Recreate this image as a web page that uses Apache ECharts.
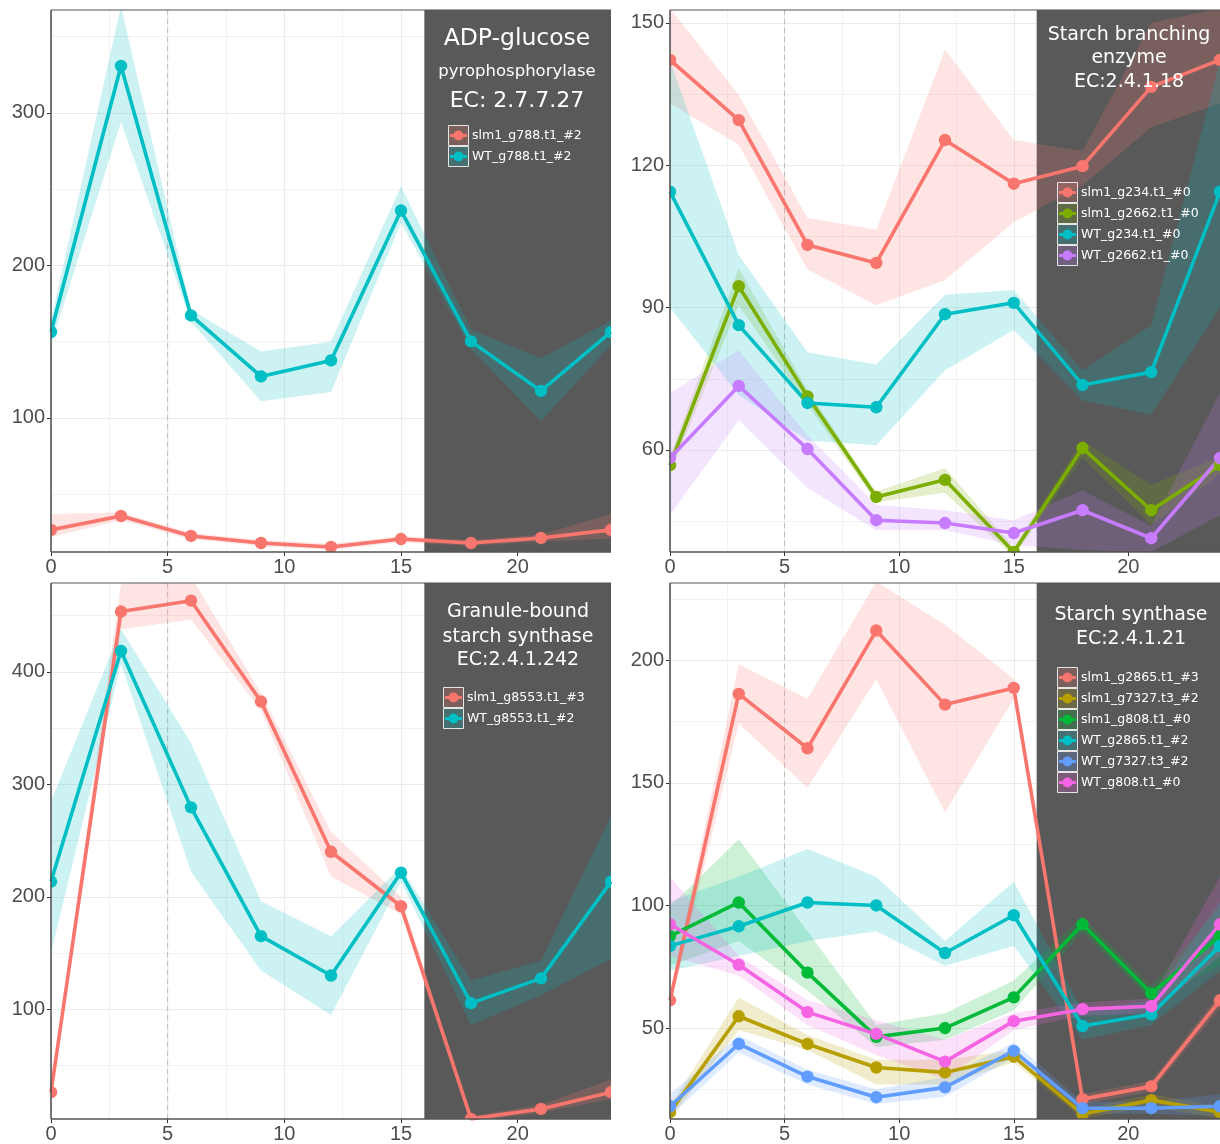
<!DOCTYPE html>
<html>
<head>
<meta charset="utf-8">
<script src="https://cdn.jsdelivr.net/npm/echarts@6/dist/echarts.min.js"></script>
<style>
  html, body { margin: 0; padding: 0; background: #ffffff; }
  #chart { width: 1220px; height: 1144px; }
</style>
</head>
<body>
<div id="chart"></div>
<script>
// Sampling times (hours) and shared x-axis ticks
const hours = [0, 3, 6, 9, 12, 15, 18, 21, 24];
const xMajorTicks = [0, 5, 10, 15, 20];
const xMinorTicks = [2.5, 7.5, 12.5, 17.5, 22.5];
const darkStart = 16;
const darkEnd = 24;
const dawnHour = 5;

// ADP-glucose pyrophosphorylase (EC 2.7.7.27)
const agpSlm1 = [26.6, 35.7, 22.6, 18.0, 15.4, 20.6, 18.0, 21.3, 26.6];
const agpSlm1Lo = [22, 33, 20.5, 16, 13.5, 18.5, 16, 19, 21];
const agpSlm1Hi = [37, 38, 24.5, 20, 17.5, 22.5, 20, 23.5, 37];
const agpWT = [156.4, 330.8, 167.2, 127.2, 137.7, 236.0, 150.2, 117.7, 156.4];
const agpWTLo = [148, 294, 163, 111, 117, 228, 145, 98, 148];
const agpWTHi = [164, 370, 171, 143.6, 150, 252, 158, 139, 164];
const agpYTicks = [100, 200, 300];
const agpYMinor = [50, 150, 250, 350];
const agpYRange = [12.1, 367.5];

// Starch branching enzyme (EC 2.4.1.18)
const sbeSlm1G234 = [142.2, 129.5, 103.2, 99.4, 125.3, 116.1, 119.8, 136.5, 142.2];
const sbeSlm1G234Lo = [133, 124.3, 98, 90.5, 95.8, 108, 115.8, 128, 133];
const sbeSlm1G234Hi = [153, 134.8, 108.9, 106.4, 144.3, 125.3, 123, 150, 153];
const sbeSlm1G2662 = [56.8, 94.5, 71.3, 50.1, 53.7, 38.5, 60.4, 47.3, 56.8];
const sbeSlm1G2662Lo = [55, 90.5, 69.5, 49, 51, 37.5, 58.3, 44.2, 55];
const sbeSlm1G2662Hi = [58.6, 98.3, 72.6, 51.2, 56.2, 39.5, 62.1, 52.6, 58.6];
const sbeWTG234 = [114.4, 86.3, 69.9, 69.0, 88.6, 91.0, 73.7, 76.4, 114.4];
const sbeWTG234Lo = [90, 71.6, 62, 61, 76.8, 85.3, 70.5, 67.4, 90];
const sbeWTG234Hi = [142, 101, 80.6, 78, 92.7, 93.7, 76.8, 86.3, 142];
const sbeWTG2662 = [58.3, 73.5, 60.2, 45.2, 44.6, 42.5, 47.3, 41.4, 58.3];
const sbeWTG2662Lo = [46.3, 66.3, 52, 43.1, 43.1, 40, 38.9, 38.5, 46.3];
const sbeWTG2662Hi = [72, 81, 63.1, 48.4, 47.3, 45.2, 51.5, 44, 72];
const sbeYTicks = [60, 90, 120, 150];
const sbeYMinor = [45, 75, 105, 135];
const sbeYRange = [38.5, 152.7];

// Granule-bound starch synthase (EC 2.4.1.242)
const gbssSlm1 = [26.2, 453.6, 463.3, 373.6, 240.0, 191.6, 2.5, 11.3, 26.2];
const gbssSlm1Lo = [22, 437.8, 446.6, 365.7, 218, 184.5, 0, 8, 20];
const gbssSlm1Hi = [30, 478, 485, 380.7, 257.5, 200, 5, 15, 37.6];
const gbssWT = [213.5, 418.5, 279.5, 165.0, 130.0, 221.5, 105.4, 127.4, 213.5];
const gbssWTLo = [150, 407, 222.3, 134.4, 94.8, 213.5, 86, 112.4, 145];
const gbssWTHi = [285, 437.8, 336.7, 196, 165, 226.7, 125.6, 143.2, 272];
const gbssYTicks = [100, 200, 300, 400];
const gbssYMinor = [50, 150, 250, 350, 450];
const gbssYRange = [2.4, 479];

// Starch synthase (EC 2.4.1.21)
const ssSlm1G2865 = [61.3, 186.3, 164.1, 212.1, 181.9, 188.7, 21.0, 26.2, 61.3];
const ssSlm1G2865Lo = [58, 174.2, 148, 192.3, 137.9, 184.3, 19, 24, 58];
const ssSlm1G2865Hi = [64, 198.4, 184.3, 232, 214.5, 192.3, 23, 28.5, 64];
const ssSlm1G7327 = [15.7, 54.8, 43.5, 33.9, 31.9, 38.3, 14.9, 20.6, 15.7];
const ssSlm1G7327Lo = [13, 49.2, 41, 27, 27, 35.9, 13, 18, 13];
const ssSlm1G7327Hi = [18, 62.5, 47.2, 37.1, 37.1, 41, 17, 23, 18];
const ssSlm1G808 = [87.5, 101.2, 72.6, 46.4, 50.0, 62.5, 92.3, 64.1, 87.5];
const ssSlm1G808Lo = [75.4, 85.5, 65.3, 42.3, 45.2, 57.3, 89, 61, 75.4];
const ssSlm1G808Hi = [99.6, 127, 89.5, 51.2, 56, 69.4, 95.5, 67, 99.6];
const ssWTG2865 = [83.5, 91.5, 101.2, 100.0, 80.6, 96.0, 50.8, 55.6, 83.5];
const ssWTG2865Lo = [73.4, 79.4, 85.5, 89.5, 75.4, 83.5, 45.2, 51.2, 73.4];
const ssWTG2865Hi = [101.6, 111.7, 123, 111.7, 85.5, 109.7, 57.3, 61.3, 101.6];
const ssWTG7327 = [18.1, 43.5, 30.2, 21.8, 25.8, 40.7, 17.3, 17.3, 18.1];
const ssWTG7327Lo = [14, 40, 27, 19, 22, 38, 15, 15, 14];
const ssWTG7327Hi = [23, 47, 33, 25, 30, 44, 20, 20, 23];
const ssWTG808 = [92.3, 75.8, 56.5, 47.6, 36.3, 52.8, 57.7, 58.9, 92.3];
const ssWTG808Lo = [79.4, 71.4, 51.2, 39, 29, 49.2, 55, 56, 79.4];
const ssWTG808Hi = [111.7, 79.4, 61.3, 53.2, 45.2, 56, 60.5, 62, 111.7];
const ssYTicks = [50, 100, 150, 200];
const ssYMinor = [25, 75, 125, 175, 225];
const ssYRange = [12.9, 231.5];

// Panel definitions: geometry, heading lines and the transcripts drawn in each
const panels = [
  {
    grid: { left: 51, top: 10, width: 560, height: 542 },
    yRange: agpYRange, yTicks: agpYTicks, yMinor: agpYMinor,
    heading: [
      { text: 'ADP-glucose', y: 39, size: 23.5 },
      { text: 'pyrophosphorylase', y: 72, size: 16.5 },
      { text: 'EC: 2.7.7.27', y: 101, size: 22 }
    ],
    headingX: 517,
    legend: { x: 448, y: 125 },
    lines: [
      { name: 'slm1_g788.t1_#2', color: '#F8766D', mean: agpSlm1, lo: agpSlm1Lo, hi: agpSlm1Hi },
      { name: 'WT_g788.t1_#2', color: '#00BFC4', mean: agpWT, lo: agpWTLo, hi: agpWTHi }
    ]
  },
  {
    grid: { left: 670, top: 10, width: 554, height: 542 },
    yRange: sbeYRange, yTicks: sbeYTicks, yMinor: sbeYMinor,
    heading: [
      { text: 'Starch branching', y: 35, size: 19 },
      { text: 'enzyme', y: 58.5, size: 19 },
      { text: 'EC:2.4.1.18', y: 82.5, size: 19 }
    ],
    headingX: 1129,
    legend: { x: 1057, y: 182 },
    lines: [
      { name: 'slm1_g234.t1_#0', color: '#F8766D', mean: sbeSlm1G234, lo: sbeSlm1G234Lo, hi: sbeSlm1G234Hi },
      { name: 'slm1_g2662.t1_#0', color: '#7CAE00', mean: sbeSlm1G2662, lo: sbeSlm1G2662Lo, hi: sbeSlm1G2662Hi },
      { name: 'WT_g234.t1_#0', color: '#00BFC4', mean: sbeWTG234, lo: sbeWTG234Lo, hi: sbeWTG234Hi },
      { name: 'WT_g2662.t1_#0', color: '#C77CFF', mean: sbeWTG2662, lo: sbeWTG2662Lo, hi: sbeWTG2662Hi }
    ]
  },
  {
    grid: { left: 51, top: 583, width: 560, height: 542 },
    yRange: gbssYRange, yTicks: gbssYTicks, yMinor: gbssYMinor,
    heading: [
      { text: 'Granule-bound', y: 612.5, size: 19 },
      { text: 'starch synthase', y: 637, size: 19 },
      { text: 'EC:2.4.1.242', y: 660.5, size: 19 }
    ],
    headingX: 518,
    legend: { x: 443, y: 687 },
    lines: [
      { name: 'slm1_g8553.t1_#3', color: '#F8766D', mean: gbssSlm1, lo: gbssSlm1Lo, hi: gbssSlm1Hi },
      { name: 'WT_g8553.t1_#2', color: '#00BFC4', mean: gbssWT, lo: gbssWTLo, hi: gbssWTHi }
    ]
  },
  {
    grid: { left: 670, top: 583, width: 554, height: 542 },
    yRange: ssYRange, yTicks: ssYTicks, yMinor: ssYMinor,
    heading: [
      { text: 'Starch synthase', y: 615.5, size: 19 },
      { text: 'EC:2.4.1.21', y: 639.5, size: 19 }
    ],
    headingX: 1131,
    legend: { x: 1057, y: 667 },
    lines: [
      { name: 'slm1_g2865.t1_#3', color: '#F8766D', mean: ssSlm1G2865, lo: ssSlm1G2865Lo, hi: ssSlm1G2865Hi },
      { name: 'slm1_g7327.t3_#2', color: '#B79F00', mean: ssSlm1G7327, lo: ssSlm1G7327Lo, hi: ssSlm1G7327Hi },
      { name: 'slm1_g808.t1_#0', color: '#00BA38', mean: ssSlm1G808, lo: ssSlm1G808Lo, hi: ssSlm1G808Hi },
      { name: 'WT_g2865.t1_#2', color: '#00BFC4', mean: ssWTG2865, lo: ssWTG2865Lo, hi: ssWTG2865Hi },
      { name: 'WT_g7327.t3_#2', color: '#619CFF', mean: ssWTG7327, lo: ssWTG7327Lo, hi: ssWTG7327Hi },
      { name: 'WT_g808.t1_#0', color: '#F564E3', mean: ssWTG808, lo: ssWTG808Lo, hi: ssWTG808Hi }
    ]
  }
];

const TICK_FONT = '"Liberation Sans", Arial, sans-serif';
const TEXT_FONT = '"DejaVu Sans", sans-serif';
const RIBBON_ALPHA = 0.2;
const NIGHT_FILL = '#595959';
const OVERLAY_Z = 20;
const POINT_RADIUS = 6.2;

function rgba(hex, a) {
  const n = parseInt(hex.slice(1), 16);
  return 'rgba(' + ((n >> 16) & 255) + ',' + ((n >> 8) & 255) + ',' + (n & 255) + ',' + a + ')';
}

const grids = [], xAxes = [], yAxes = [], series = [], graphics = [];

panels.forEach((p, i) => {
  grids.push(Object.assign({ containLabel: false }, p.grid));

  // primary x axis: labels, ticks and major grid lines
  xAxes.push({
    type: 'value', gridIndex: i, min: 0, max: 24,
    axisLine: { show: false },
    axisTick: { show: true, length: 4, customValues: xMajorTicks, lineStyle: { color: '#333333', width: 1 } },
    axisLabel: { customValues: xMajorTicks, color: '#4D4D4D', fontSize: 20, fontFamily: TICK_FONT, margin: 5 },
    splitLine: { show: true, lineStyle: { color: '#EBEBEB', width: 1.1 } }
  });
  // secondary x axis: minor grid lines only
  xAxes.push({
    type: 'value', gridIndex: i, min: 0, max: 24,
    axisLine: { show: false }, axisLabel: { show: false },
    axisTick: { show: false, customValues: xMinorTicks },
    splitLine: { show: true, lineStyle: { color: '#F2F2F2', width: 1 } }
  });
  yAxes.push({
    type: 'value', gridIndex: i, min: p.yRange[0], max: p.yRange[1],
    axisLine: { show: false },
    axisTick: { show: true, length: 4, customValues: p.yTicks, lineStyle: { color: '#333333', width: 1 } },
    axisLabel: { customValues: p.yTicks, color: '#4D4D4D', fontSize: 20, fontFamily: TICK_FONT, margin: 6 },
    splitLine: { show: true, lineStyle: { color: '#EBEBEB', width: 1.1 } }
  });
  yAxes.push({
    type: 'value', gridIndex: i, min: p.yRange[0], max: p.yRange[1],
    axisLine: { show: false }, axisLabel: { show: false },
    axisTick: { show: false, customValues: p.yMinor },
    splitLine: { show: true, lineStyle: { color: '#F2F2F2', width: 1 } }
  });

  const xi = 2 * i, yi = 2 * i;

  // night shading and the dashed dawn marker
  series.push({
    type: 'custom', xAxisIndex: xi, yAxisIndex: yi, z: 1, silent: true,
    data: [[darkStart, darkEnd]],
    renderItem: (params, api) => {
      const cs = params.coordSys;
      const x0 = api.coord([api.value(0), p.yRange[0]])[0];
      const x1 = api.coord([api.value(1), p.yRange[0]])[0];
      const xd = api.coord([dawnHour, p.yRange[0]])[0];
      return {
        type: 'group',
        children: [
          { type: 'rect', shape: { x: x0, y: cs.y, width: x1 - x0, height: cs.height }, style: { fill: NIGHT_FILL } },
          { type: 'line', shape: { x1: xd, y1: cs.y, x2: xd, y2: cs.y + cs.height },
            style: { stroke: '#BDBDBD', lineWidth: 1, lineDash: [5, 4] } }
        ]
      };
    }
  });

  // confidence ribbons
  p.lines.forEach((s) => {
    series.push({
      type: 'custom', name: s.name + ' band', xAxisIndex: xi, yAxisIndex: yi, z: 2, clip: true, silent: true,
      data: [[0, 0]],
      renderItem: (params, api) => {
        const upper = hours.map((h, j) => api.coord([h, s.hi[j]]));
        const lower = hours.map((h, j) => api.coord([h, s.lo[j]])).reverse();
        return { type: 'polygon', shape: { points: upper.concat(lower) }, style: { fill: rgba(s.color, RIBBON_ALPHA) } };
      }
    });
  });

  // mean expression lines
  p.lines.forEach((s) => {
    series.push({
      type: 'line', name: s.name, xAxisIndex: xi, yAxisIndex: yi, z: 3, clip: true,
      data: hours.map((h, j) => [h, s.mean[j]]),
      showSymbol: false,
      lineStyle: { color: s.color, width: 3.6 },
      emphasis: { disabled: true }
    });
  });

  // sample points, clipped to the panel like the lines
  p.lines.forEach((s) => {
    series.push({
      type: 'custom', name: s.name + ' points', xAxisIndex: xi, yAxisIndex: yi, z: 4, clip: true, silent: true,
      data: hours.map((h, j) => [h, s.mean[j]]),
      renderItem: (params, api) => {
        const c = api.coord([api.value(0), api.value(1)]);
        return { type: 'circle', shape: { cx: c[0], cy: c[1], r: POINT_RADIUS }, style: { fill: s.color } };
      }
    });
  });

  // panel frame
  series.push({
    type: 'custom', xAxisIndex: xi, yAxisIndex: yi, z: 10, silent: true,
    data: [[0, 0]],
    renderItem: (params) => {
      const cs = params.coordSys;
      return {
        type: 'group',
        children: [
          { type: 'line', shape: { x1: cs.x, y1: cs.y, x2: cs.x, y2: cs.y + cs.height }, style: { stroke: '#555555', lineWidth: 1.6 } },
          { type: 'line', shape: { x1: cs.x, y1: cs.y + cs.height, x2: cs.x + cs.width, y2: cs.y + cs.height }, style: { stroke: '#555555', lineWidth: 1.6 } },
          { type: 'line', shape: { x1: cs.x, y1: cs.y, x2: cs.x + cs.width, y2: cs.y }, style: { stroke: '#555555', lineWidth: 1.2 } }
        ]
      };
    }
  });

  // heading text
  p.heading.forEach((h) => {
    graphics.push({
      type: 'text', z: OVERLAY_Z, x: p.headingX, y: h.y,
      style: { text: h.text, fill: '#FFFFFF', font: h.size + 'px ' + TEXT_FONT, textAlign: 'center', textVerticalAlign: 'middle' }
    });
  });

  // legend keys
  p.lines.forEach((s, k) => {
    const top = p.legend.y + k * 21;
    const left = p.legend.x;
    graphics.push(
      { type: 'rect', z: OVERLAY_Z, shape: { x: left + 0.5, y: top + 0.5, width: 20, height: 20 },
        style: { fill: rgba(s.color, 0.22), stroke: '#E6E6E6', lineWidth: 1 } },
      { type: 'line', z: OVERLAY_Z + 1, shape: { x1: left + 2, y1: top + 10.5, x2: left + 19, y2: top + 10.5 },
        style: { stroke: s.color, lineWidth: 3 } },
      { type: 'circle', z: OVERLAY_Z + 2, shape: { cx: left + 10.5, cy: top + 10.5, r: 5 }, style: { fill: s.color } },
      { type: 'text', z: OVERLAY_Z, x: left + 24, y: top + 10.5,
        style: { text: s.name, fill: '#FFFFFF', font: '12.5px ' + TEXT_FONT, textVerticalAlign: 'middle' } }
    );
  });
});

const chart = echarts.init(document.getElementById('chart'), null, { renderer: 'canvas' });
chart.setOption({
  animation: false,
  backgroundColor: '#FFFFFF',
  grid: grids,
  xAxis: xAxes,
  yAxis: yAxes,
  series: series,
  graphic: graphics
});
</script>
</body>
</html>
